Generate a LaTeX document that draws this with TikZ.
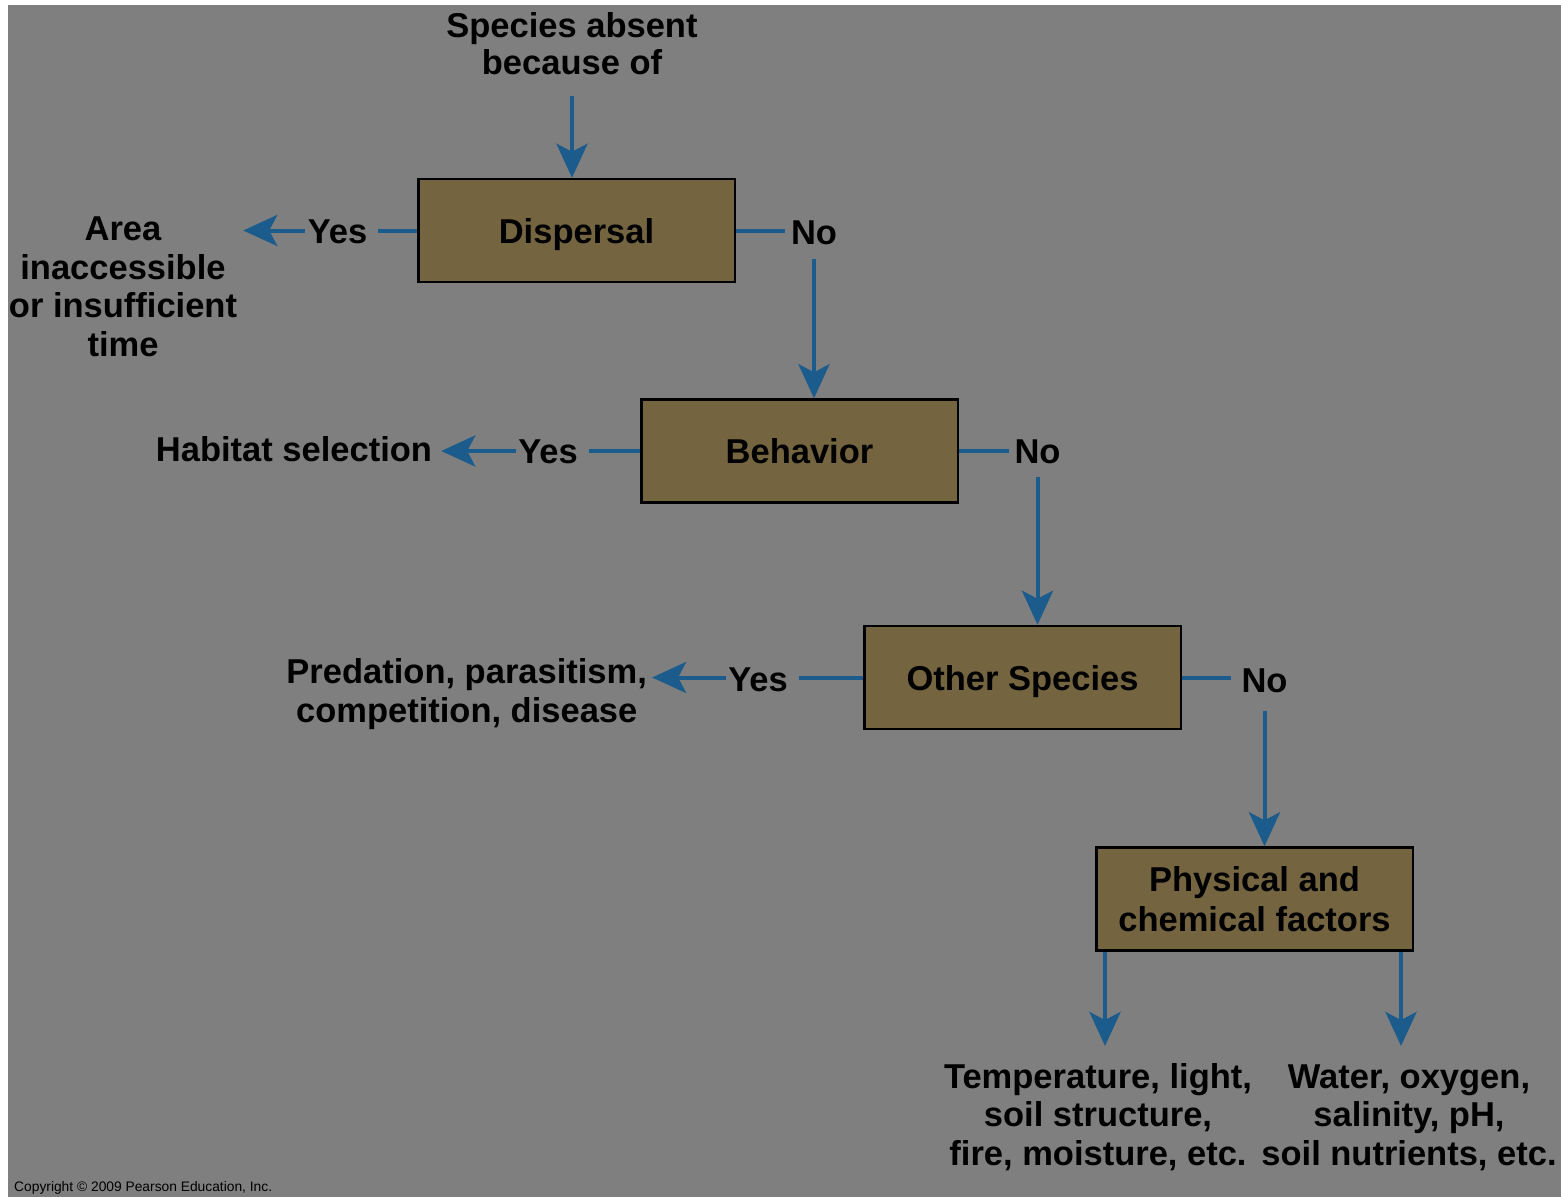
\documentclass[tikz,border=0pt]{standalone}
\usepackage{fontspec}
\setmainfont{Liberation Sans}
\usetikzlibrary{arrows.meta}
\definecolor{bggray}{RGB}{127,127,127}
\definecolor{boxfill}{RGB}{116,101,64}
\definecolor{flowblue}{RGB}{27,92,140}

\begin{document}
\begin{tikzpicture}[x=1pt,y=-1pt,
  % multi-line texts sit on the baseline of their last line
  txt/.style={font=\fontsize{34.5}{38.7}\selectfont\bfseries, inner sep=0pt, align=center, anchor=base},
  factor/.style={draw=black, line width=2.5pt, fill=boxfill, minimum width=316.5pt,
    minimum height=103pt, inner sep=0pt, align=center, text depth=0pt,
    font=\fontsize{34.5}{40}\selectfont\bfseries},
  link/.style={draw=flowblue, line width=4pt},
  flow/.style={link, -{Stealth[length=34pt,width=31pt,inset=8pt]}},
]
% page and panel
\useasboundingbox (0,0) rectangle (1561,1197);
\fill[white] (0,0) rectangle (1561,1197);
\fill[bggray] (8,5) rectangle (1561,1197);

% decision boxes
\node[factor] (disp) at (576.5,230.5) {Dispersal};
\node[factor] (beh)  at (799.5,451)   {Behavior};
\node[factor] (oth)  at (1022.5,677.5) {Other Species};
\node[factor] (phys) at (1254.5,899)  {Physical and\\chemical factors};

% free texts
\node[txt, font=\fontsize{34.5}{37.4}\selectfont\bfseries] (title) at (572,74.7) {Species absent\\because of};
\node[txt] (area) at (123,356.5) {Area\\inaccessible\\or insufficient\\time};
\node[txt] (habitat) at (294,461.7) {Habitat selection};
\node[txt] (pred) at (466.7,722) {Predation, parasitism,\\competition, disease};
\node[txt, font=\fontsize{34.5}{38.5}\selectfont\bfseries] (temp) at (1098,1165) {Temperature, light,\\soil structure,\\fire, moisture, etc.};
\node[txt, font=\fontsize{34.5}{38.5}\selectfont\bfseries] (water) at (1409,1165) {Water, oxygen,\\salinity, pH,\\soil nutrients, etc.};

% yes / no labels
\node[txt] (yes1) at (337.5,243) {Yes};
\node[txt] (no1)  at (814,244)   {No};
\node[txt] (yes2) at (548,463)   {Yes};
\node[txt] (no2)  at (1037.5,463) {No};
\node[txt] (yes3) at (758,691)   {Yes};
\node[txt] (no3)  at (1264.5,692) {No};

% arrow ends below the last box
\coordinate (tA) at (1105,1046);
\coordinate (wA) at (1401,1046);

% connectors
\draw[flow, shorten <=21pt] (title.south) -- (title.south |- disp.north);

\draw[link, shorten >=11pt] (disp.west) -- (yes1.east |- disp.west);
\draw[flow, shorten <=3pt, shorten >=6pt] (yes1.west |- disp.west) -- (area.east |- disp.west);
\draw[link, shorten >=6pt] (disp.east) -- (no1.west |- disp.east);
\draw[flow, shorten <=14pt] (no1.south) -- (no1.south |- beh.north);

\draw[link, shorten >=11pt] (beh.west) -- (yes2.east |- beh.west);
\draw[flow, shorten <=2pt, shorten >=9pt] (yes2.west |- beh.west) -- (habitat.east |- beh.west);
\draw[link, shorten >=5pt] (beh.east) -- (no2.west |- beh.east);
\draw[flow, shorten <=13pt] (no2.south) -- (no2.south |- oth.north);

\draw[link, shorten >=11pt] (oth.west) -- (yes3.east |- oth.west);
\draw[flow, shorten <=2pt, shorten >=5pt] (yes3.west |- oth.west) -- (pred.east |- oth.west);
\draw[link, shorten >=10pt] (oth.east) -- (no3.west |- oth.east);
\draw[flow, shorten <=18pt] (no3.south) -- (no3.south |- phys.north);

\draw[flow] (phys.south -| tA) -- (tA);
\draw[flow] (phys.south -| wA) -- (wA);

% credit line
\node[anchor=base west, inner sep=0pt, font=\fontsize{13.8}{16}\selectfont] (credit) at (14,1191) {Copyright © 2009 Pearson Education, Inc.};
\end{tikzpicture}
\end{document}
